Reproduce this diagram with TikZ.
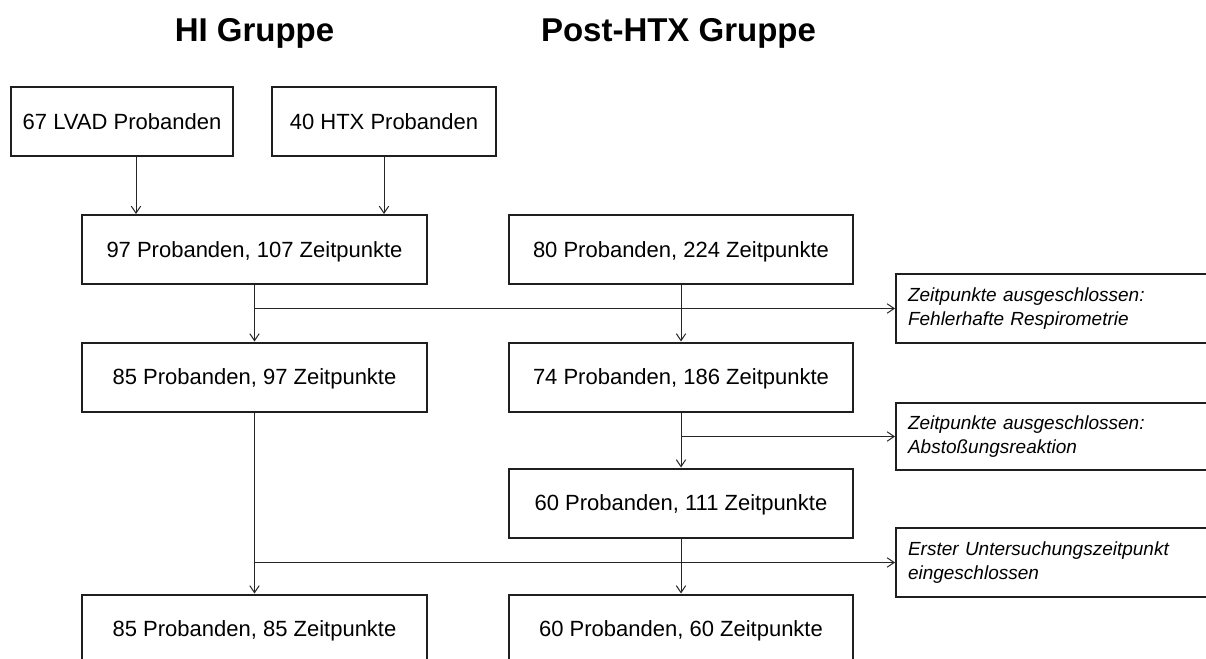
\documentclass[tikz,border=0pt]{standalone}
\usepackage{fontspec}
\setmainfont{Liberation Sans}
\usetikzlibrary{arrows.meta}
\begin{document}
\begin{tikzpicture}[x=0.75pt,y=-0.75pt,
  box/.style={draw=black!88, line width=1.5pt, inner sep=0pt,
    font=\fontsize{16.5}{19.8}\selectfont, text height=11.8pt, text depth=0pt,
    minimum height=51.75pt},
  lcol/.style={minimum width=258.75pt},
  rcol/.style={minimum width=258pt},
  note/.style={draw=black!88, line width=1.5pt, anchor=west, text width=252pt,
    inner xsep=9pt, inner ysep=0pt, align=left,
    font=\fontsize{14.25}{17.6}\selectfont\itshape},
  title/.style={font=\fontsize{24.75}{30}\selectfont\bfseries, anchor=base, inner sep=0pt},
  arr/.style={draw=black!85, line width=0.75pt, -{Straight Barb[length=5.2pt,width=7pt]}}
]
\useasboundingbox (0,0) rectangle (1206,659);
\clip (0,0) rectangle (1206,659);
\fill[white] (0,0) rectangle (1206,659);

\node[title] (t1) at (254.5,42) {HI Gruppe};
\node[title] (t2) at (678.5,42) {Post-HTX Gruppe};

\node[box, minimum width=166.5pt] (lvad) at (122,121.5) {67 LVAD Probanden};
\node[box, minimum width=168pt] (htx) at (384,121.5) {40 HTX Probanden};
\node[box, lcol] (b97) at (254.5,249.5) {97 Probanden, 107 Zeitpunkte};
\node[box, rcol] (b80) at (681,249.5) {80 Probanden, 224 Zeitpunkte};
\node[box, lcol] (b85) at (254.5,377) {85 Probanden, 97 Zeitpunkte};
\node[box, rcol] (b74) at (681,377) {74 Probanden, 186 Zeitpunkte};
\node[box, rcol] (b60a) at (681,503) {60 Probanden, 111 Zeitpunkte};
\node[box, lcol] (b85b) at (254.5,629) {85 Probanden, 85 Zeitpunkte};
\node[box, rcol] (b60b) at (681,629) {60 Probanden, 60 Zeitpunkte};

\node[note, minimum height=51.75pt] (r1) at (895,308.5) {Zeitpunkte ausgeschlossen:\\Fehlerhafte Respirometrie};
\node[note, minimum height=50.25pt] (r2) at (895,436.5) {Zeitpunkte ausgeschlossen:\\Abstoßungsreaktion};
\node[note, minimum height=51.75pt] (r3) at (895,562.5) {Erster Untersuchungszeitpunkt\\eingeschlossen};

\coordinate (lv) at ([xshift=10.5pt]lvad.south);
\draw[arr] (lv) -- (lv |- b97.north);
\draw[arr] (htx.south) -- (htx.south |- b97.north);
\draw[arr] (b97.south) -- (b85.north);
\coordinate (j1) at (b97.south |- r1.west);
\draw[arr] (j1) -- (r1.west);
\draw[arr] (b80.south) -- (b74.north);
\draw[arr] (b74.south) -- (b60a.north);
\coordinate (j2) at (b74.south |- r2.west);
\draw[arr] (j2) -- (r2.west);
\draw[arr] (b85.south) -- (b85b.north);
\coordinate (j3) at (b85.south |- r3.west);
\draw[arr] (j3) -- (r3.west);
\draw[arr] (b60a.south) -- (b60b.north);
\end{tikzpicture}
\end{document}
